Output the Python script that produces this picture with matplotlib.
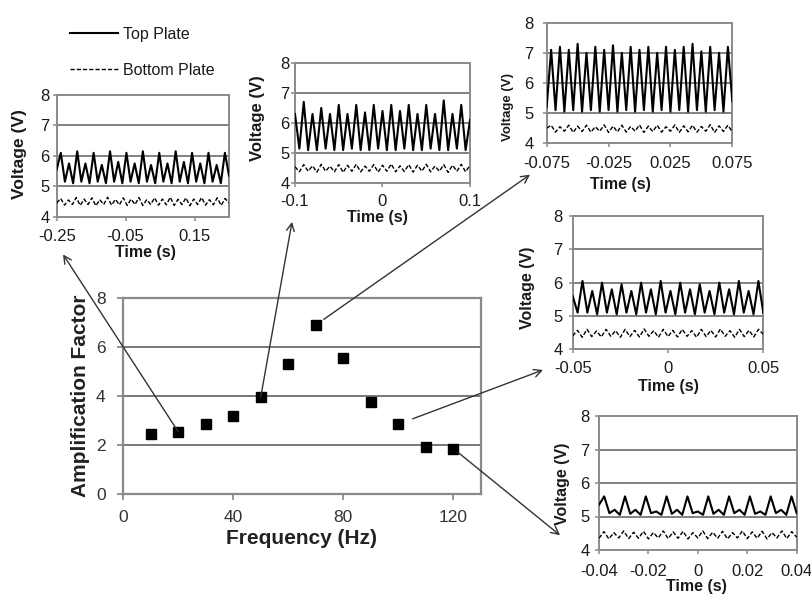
import numpy as np
import matplotlib
matplotlib.use('Agg')
import matplotlib.pyplot as plt
from matplotlib.patches import ConnectionPatch

plt.rcParams['font.family'] = ['Liberation Sans', 'DejaVu Sans']

# ---------------- data ----------------
freq = [10, 20, 30, 40, 50, 60, 70, 80, 90, 100, 110, 120]
amp = [2.45, 2.55, 2.85, 3.2, 3.95, 5.3, 6.9, 5.55, 3.75, 2.85, 1.9, 1.85]
freq_ticks = [0, 40, 80, 120]
amp_ticks = [0, 2, 4, 6, 8]

inset_freqs = [20, 50, 70, 100, 120]
time_windows = [(-0.25, 0.25), (-0.1, 0.1), (-0.075, 0.075), (-0.05, 0.05), (-0.04, 0.04)]
time_ticks = [[-0.25, -0.05, 0.15], [-0.1, 0, 0.1], [-0.075, -0.025, 0.025, 0.075],
              [-0.05, 0, 0.05], [-0.04, -0.02, 0, 0.02, 0.04]]
time_tick_labels = [['-0.25', '-0.05', '0.15'], ['-0.1', '0', '0.1'],
                    ['-0.075', '-0.025', '0.025', '0.075'], ['-0.05', '0', '0.05'],
                    ['-0.04', '-0.02', '0', '0.02', '0.04']]
volt_ticks = [4, 5, 6, 7, 8]

top_20 = [5.55, 6.1, 5.15, 5.75, 5.1, 6.15, 5.15, 5.75, 5.1, 6.1, 5.15, 5.7, 5.1, 6.15, 5.15,
          5.8, 5.1, 6.1, 5.15, 5.75, 5.1, 6.15, 5.15, 5.7, 5.1, 6.1, 5.15, 5.75, 5.1, 6.15,
          5.15, 5.8, 5.1, 6.1, 5.15, 5.75, 5.1, 6.1, 5.15, 5.7, 5.1, 6.1, 5.35]
bottom_20 = [4.45, 4.6, 4.38, 4.55, 4.4, 4.63, 4.37, 4.58, 4.4, 4.62, 4.36, 4.56, 4.4, 4.64,
             4.38, 4.57, 4.39, 4.62, 4.37, 4.58, 4.4, 4.63, 4.37, 4.56, 4.4, 4.62, 4.38, 4.58,
             4.39, 4.64, 4.37, 4.57, 4.4, 4.62, 4.36, 4.58, 4.4, 4.63, 4.38, 4.56, 4.39, 4.62,
             4.37, 4.6, 4.45]
top_50 = [6.3, 5.15, 6.7, 5.1, 6.3, 5.1, 6.5, 5.15, 6.3, 5.1, 6.6, 5.1, 6.3, 5.15, 6.6, 5.1,
          6.35, 5.1, 6.6, 5.15, 6.4, 5.1, 6.6, 5.1, 6.4, 5.15, 6.6, 5.1, 6.3, 5.1, 6.6, 5.15,
          6.3, 5.1, 6.75, 5.1, 6.3, 5.15, 6.6, 5.1, 6.1]
bottom_50 = [4.55, 4.38, 4.62, 4.4, 4.58, 4.37, 4.63, 4.4, 4.57, 4.38, 4.62, 4.36, 4.6, 4.4,
             4.63, 4.38, 4.57, 4.4, 4.62, 4.37, 4.6, 4.4, 4.64, 4.38, 4.58, 4.39, 4.62, 4.37,
             4.6, 4.4, 4.63, 4.38, 4.57, 4.4, 4.62, 4.36, 4.6, 4.4, 4.63, 4.38, 4.6]
top_70 = [5.2, 7.1, 5.1, 7.2, 5.05, 7.1, 5.1, 7.3, 5.05, 7.0, 5.1, 7.2, 5.05, 7.1, 5.1, 7.25,
          5.05, 7.0, 5.1, 7.2, 5.05, 7.1, 5.1, 7.2, 5.05, 7.0, 5.1, 7.2, 5.05, 7.1, 5.1, 7.2,
          5.05, 7.3, 5.1, 7.05, 5.05, 7.2, 5.1, 7.0, 5.05, 7.2, 5.4]
bottom_70 = [4.5, 4.6, 4.37, 4.55, 4.4, 4.6, 4.36, 4.57, 4.39, 4.6, 4.37, 4.55, 4.4, 4.61,
             4.36, 4.57, 4.38, 4.6, 4.37, 4.56, 4.4, 4.61, 4.36, 4.57, 4.39, 4.6, 4.37, 4.55,
             4.4, 4.61, 4.36, 4.58, 4.38, 4.6, 4.37, 4.56, 4.4, 4.62, 4.36, 4.58, 4.39, 4.6, 4.38]
top_100 = [5.6, 5.1, 6.05, 5.1, 5.75, 5.05, 6.0, 5.1, 5.8, 5.05, 5.95, 5.1, 5.75, 5.05, 6.0,
           5.1, 5.8, 5.05, 6.05, 5.1, 5.75, 5.05, 6.0, 5.1, 5.8, 5.05, 5.95, 5.1, 5.75, 5.05,
           6.0, 5.1, 5.8, 5.05, 6.05, 5.1, 5.75, 5.05, 6.05, 5.1]
bottom_100 = [4.4, 4.57, 4.36, 4.6, 4.38, 4.55, 4.37, 4.6, 4.39, 4.56, 4.36, 4.6, 4.38, 4.57,
              4.37, 4.61, 4.39, 4.56, 4.36, 4.6, 4.38, 4.57, 4.37, 4.6, 4.39, 4.56, 4.36, 4.6,
              4.38, 4.57, 4.37, 4.61, 4.39, 4.56, 4.36, 4.6, 4.38, 4.57, 4.37, 4.6, 4.45]
top_120 = [5.35, 5.6, 5.1, 5.2, 5.05, 5.6, 5.08, 5.2, 5.05, 5.6, 5.1, 5.15, 5.05, 5.6, 5.08,
           5.2, 5.05, 5.6, 5.1, 5.15, 5.05, 5.6, 5.08, 5.2, 5.05, 5.6, 5.1, 5.2, 5.05, 5.6,
           5.08, 5.15, 5.05, 5.6, 5.1, 5.2, 5.05, 5.6, 5.1]
bottom_120 = [4.35, 4.55, 4.33, 4.52, 4.36, 4.57, 4.34, 4.53, 4.35, 4.56, 4.33, 4.52, 4.36,
              4.57, 4.34, 4.54, 4.35, 4.56, 4.33, 4.52, 4.36, 4.57, 4.34, 4.53, 4.35, 4.56,
              4.33, 4.52, 4.36, 4.57, 4.34, 4.54, 4.35, 4.56, 4.33, 4.52, 4.36, 4.57, 4.34,
              4.55, 4.38]

top_series = [top_20, top_50, top_70, top_100, top_120]
bottom_series = [bottom_20, bottom_50, bottom_70, bottom_100, bottom_120]

# ---------------- layout / style ----------------
W, H = 812, 595
fig = plt.figure(figsize=(W / 100, H / 100), dpi=100)

def px_rect(x0, y0, x1, y1):
    return [x0 / W, 1 - y1 / H, (x1 - x0) / W, (y1 - y0) / H]

GRID = '#777777'
SPINE = '#8a8a8a'
TXT = '#1a1a1a'

main_rect = px_rect(123, 298, 481, 494)
inset_px = [(56.7, 95, 229, 216.7),
            (295, 62.7, 470, 183.3),
            (546.7, 22.7, 732.3, 143.3),
            (572.7, 216, 763.3, 349.3),
            (599, 416, 796.7, 550)]
ylabel_sizes = [12.5, 12, 9.5, 11.5, 11.5]
ylabel_centers = [(20, 154), (258, 118), (508, 107), (528, 288), (563, 484)]
xlabel_centers = [(145, 253), (377, 218), (620, 185), (668, 386), (696, 587)]
ytick_pads = [2.2, 0.9, 6.5, 4.3, 3.6]
xtick_pads = [5.8, 5.0, 6.5, 5.5, 7.2]
arrow_targets = [(0.037, -0.31), (-0.017, -0.32), (-0.09, -0.26), (-0.156, -0.155), (-0.197, 0.11)]
arrow_gaps = [0, 0, 7, 11, 4]

# ---------------- main chart ----------------
ax = fig.add_axes(main_rect)
ax.plot(freq, amp, linestyle='none', marker='s', markersize=6.5, color='black', zorder=3)
ax.set_xlim(0, 130)
ax.set_ylim(0, 8)
ax.set_xticks(freq_ticks)
ax.set_yticks(amp_ticks)
for v in amp_ticks[1:]:
    ax.axhline(v, color=GRID, lw=1.4, zorder=1)
for s in ax.spines.values():
    s.set_color(SPINE)
    s.set_linewidth(1.6)
ax.tick_params(axis='both', direction='out', length=4.5, width=1.3, color=SPINE,
               labelsize=12.5, labelcolor='#333333')
ax.tick_params(axis='x', pad=7)
ax.tick_params(axis='y', pad=8)
ax.set_xlabel('Frequency (Hz)', fontsize=15, fontweight='bold', color='#222222', labelpad=3)
ax.set_ylabel('Amplification Factor', fontsize=15, fontweight='bold', color='#222222', labelpad=4)

# ---------------- insets ----------------
insets = []
legend_handles = None
for i in range(5):
    x0, y0, x1, y1 = inset_px[i]
    a = fig.add_axes(px_rect(x0, y0, x1, y1))
    lo, hi = time_windows[i]
    tt = np.linspace(lo, hi, len(top_series[i]))
    tb = np.linspace(lo, hi, len(bottom_series[i]))
    l1, = a.plot(tt, top_series[i], color='black', lw=1.5, label='Top Plate', zorder=3)
    l2, = a.plot(tb, bottom_series[i], color='black', lw=1.0, linestyle=(0, (3, 1.5)),
                 label='Bottom Plate', zorder=3)
    if legend_handles is None:
        legend_handles = [l1, l2]
    a.set_xlim(lo, hi)
    a.set_ylim(4, 8)
    a.set_xticks(time_ticks[i])
    a.set_xticklabels(time_tick_labels[i])
    a.set_yticks(volt_ticks)
    for v in volt_ticks[1:-1]:
        a.axhline(v, color=GRID, lw=1.3, zorder=1)
    for s in a.spines.values():
        s.set_color(SPINE)
        s.set_linewidth(1.4)
    a.tick_params(axis='both', direction='out', length=3, width=1.1, color=SPINE,
                  labelsize=12, labelcolor=TXT)
    a.tick_params(axis='x', pad=xtick_pads[i])
    a.tick_params(axis='y', pad=ytick_pads[i])
    a.set_xlabel('Time (s)', fontsize=11.5, fontweight='bold', color=TXT, va='center')
    a.set_ylabel('Voltage (V)', fontsize=ylabel_sizes[i], fontweight='bold', color=TXT,
                 va='center')
    lx, ly = ylabel_centers[i]
    a.yaxis.set_label_coords((lx - x0) / (x1 - x0), (y1 - ly) / (y1 - y0))
    tx, ty = xlabel_centers[i]
    a.xaxis.set_label_coords((tx - x0) / (x1 - x0), (y1 - ty) / (y1 - y0))
    insets.append(a)

# ---------------- arrows ----------------
for i, f in enumerate(inset_freqs):
    k = freq.index(f)
    con = ConnectionPatch(xyA=(freq[k], amp[k]), coordsA=ax.transData,
                          xyB=arrow_targets[i], coordsB=insets[i].transAxes,
                          arrowstyle='->,head_length=0.55,head_width=0.28',
                          color='#333333', lw=1.0, shrinkA=arrow_gaps[i], shrinkB=0,
                          zorder=5)
    fig.add_artist(con)

# ---------------- legend ----------------
fig.legend(handles=legend_handles, labels=['Top Plate', 'Bottom Plate'],
           loc='upper left', bbox_to_anchor=(70 / W, 1 - 27 / H), frameon=False,
           fontsize=11.5, handlelength=3.0, handletextpad=0.3, labelspacing=1.3,
           borderpad=0, borderaxespad=0, labelcolor=TXT)

fig.savefig('out.png', dpi=100)
